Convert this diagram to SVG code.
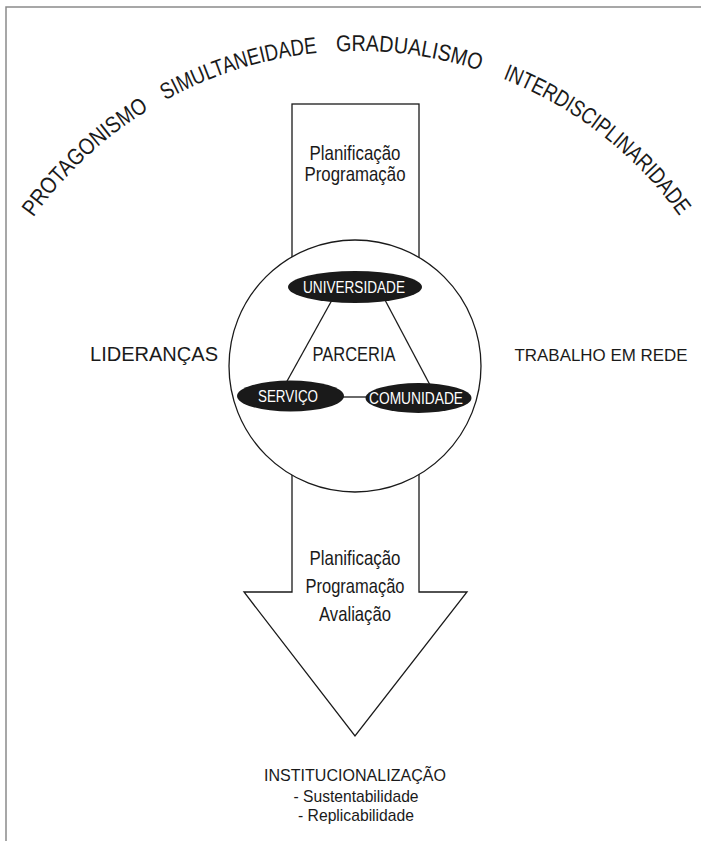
<svg xmlns="http://www.w3.org/2000/svg" width="701" height="841" viewBox="0 0 701 841">
<style>
text{font-family:"Liberation Sans",Arial,sans-serif;fill:#1a1a1a}
.arc{font-size:23px}
.lbl{font-size:21px;text-anchor:middle}
.side{font-size:20px;text-anchor:middle}
.small{font-size:17px;text-anchor:middle}
.ell{font-size:16.5px;fill:#fff;text-anchor:middle}
.shape{fill:#fff;stroke:#1a1a1a;stroke-width:1.3}
.conn{stroke:#1a1a1a;stroke-width:1.3;fill:none}
.ellipse{fill:#1a1a1a}
</style>
<defs>
<path id="arcpath" d="M -41,449 A 398,398 0 0 1 755,449"/>
</defs>
<rect width="701" height="841" fill="#fff"/>
<path d="M6,841 L6,7 L701,7" fill="none" stroke="#8a8a8a" stroke-width="1.5"/>
<g id="principles">
<text class="arc"><textPath href="#arcpath" startOffset="247" textLength="159" lengthAdjust="spacingAndGlyphs">PROTAGONISMO</textPath></text>
<text class="arc"><textPath href="#arcpath" startOffset="425" textLength="160" lengthAdjust="spacingAndGlyphs">SIMULTANEIDADE</textPath></text>
<text class="arc"><textPath href="#arcpath" startOffset="604" textLength="146" lengthAdjust="spacingAndGlyphs">GRADUALISMO</textPath></text>
<text class="arc"><textPath href="#arcpath" startOffset="774" textLength="227" lengthAdjust="spacingAndGlyphs">INTERDISCIPLINARIDADE</textPath></text>
</g>
<g id="top-box">
<rect class="shape" x="292" y="104" width="127" height="200"/>
<text class="lbl" x="355" y="160" textLength="91" lengthAdjust="spacingAndGlyphs">Planificação</text>
<text class="lbl" x="355" y="181" textLength="101" lengthAdjust="spacingAndGlyphs">Programação</text>
</g>
<g id="bottom-arrow">
<path class="shape" d="M292,420 L292,592 L244,592 L355,736 L467,592 L419,592 L419,420 Z"/>
<text class="lbl" x="355" y="565" textLength="91" lengthAdjust="spacingAndGlyphs">Planificação</text>
<text class="lbl" x="355" y="593" textLength="99" lengthAdjust="spacingAndGlyphs">Programação</text>
<text class="lbl" x="355" y="621" textLength="72" lengthAdjust="spacingAndGlyphs">Avaliação</text>
</g>
<g id="parceria-circle">
<circle class="shape" cx="355" cy="366" r="126"/>
<text class="side" x="354" y="361" textLength="83" lengthAdjust="spacingAndGlyphs">PARCERIA</text>
</g>
<g id="connectors">
<line class="conn" x1="332" y1="300" x2="286" y2="383"/>
<line class="conn" x1="385" y1="300" x2="430" y2="385"/>
<line class="conn" x1="342" y1="397" x2="368" y2="397"/>
</g>
<g id="universidade">
<ellipse class="ellipse" cx="355" cy="287" rx="67" ry="16"/>
<text class="ell" x="354" y="293" textLength="102" lengthAdjust="spacingAndGlyphs">UNIVERSIDADE</text>
</g>
<g id="servico">
<ellipse class="ellipse" cx="290.5" cy="396" rx="53.5" ry="15.5"/>
<text class="ell" x="288" y="402" textLength="60" lengthAdjust="spacingAndGlyphs">SERVIÇO</text>
</g>
<g id="comunidade">
<ellipse class="ellipse" cx="418.5" cy="398" rx="53" ry="15"/>
<text class="ell" x="416" y="404" textLength="94" lengthAdjust="spacingAndGlyphs">COMUNIDADE</text>
</g>
<g id="liderancas">
<text class="side" x="154" y="361" textLength="128" lengthAdjust="spacingAndGlyphs">LIDERANÇAS</text>
</g>
<g id="trabalho">
<text class="small" x="601" y="361" textLength="173" lengthAdjust="spacingAndGlyphs">TRABALHO EM REDE</text>
</g>
<g id="institucionalizacao">
<text class="small" x="355" y="781" textLength="182" lengthAdjust="spacingAndGlyphs">INSTITUCIONALIZAÇÃO</text>
<text class="small" x="356" y="802" textLength="125" lengthAdjust="spacingAndGlyphs">- Sustentabilidade</text>
<text class="small" x="356" y="821" textLength="116" lengthAdjust="spacingAndGlyphs">- Replicabilidade</text>
</g>
</svg>
